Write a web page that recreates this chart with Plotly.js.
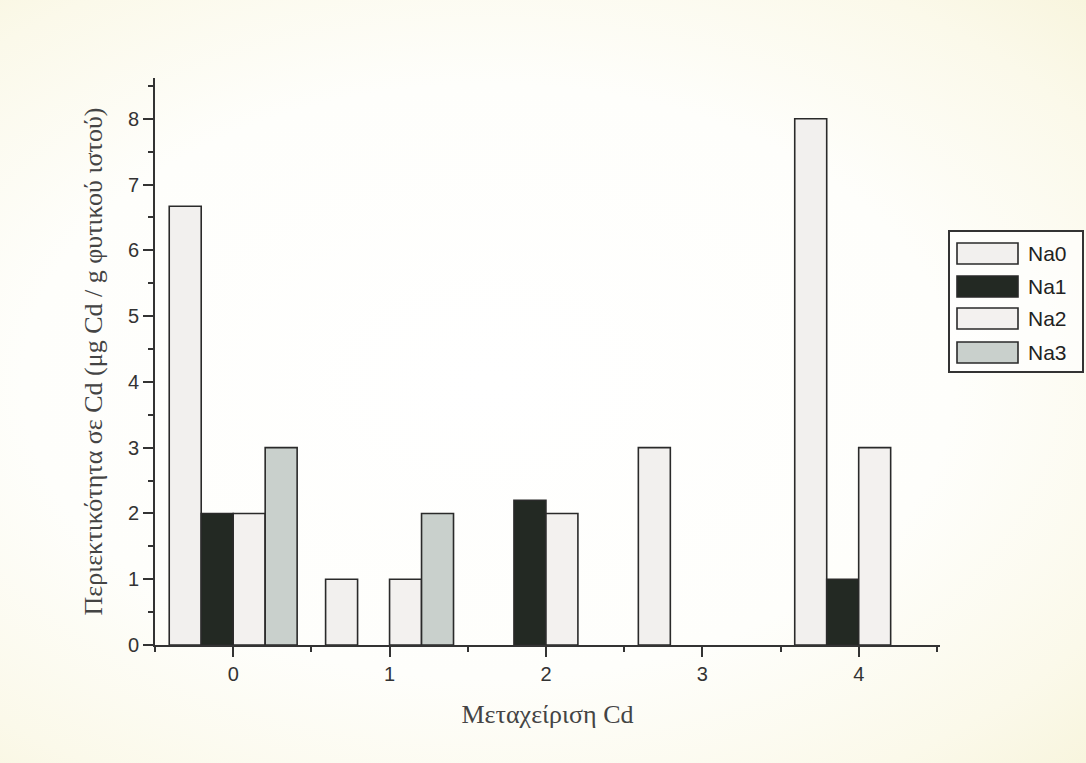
<!DOCTYPE html>
<html>
<head>
<meta charset="utf-8">
<script src="https://cdn.plot.ly/plotly-3.0.1.min.js"></script>
<style>
  html, body { margin: 0; padding: 0; }
  body {
    width: 1086px; height: 763px; overflow: hidden;
    background: radial-gradient(ellipse at 45% 50%, #ffffff 0%, #fefefb 55%, #fbf9ea 85%, #f8f5de 100%);
  }
  #chart { width: 1086px; height: 763px; }
</style>
</head>
<body>
<div id="chart"></div>
<script>
// Data (null = no bar drawn)
const categories = [0, 1, 2, 3, 4];
const seriesNames = ["Na0", "Na1", "Na2", "Na3"];
const na0 = [6.67, 1.0, null, 3.0, 8.0];
const na1 = [2.0, null, 2.2, null, 1.0];
const na2 = [2.0, 1.0, 2.0, null, 3.0];
const na3 = [3.0, 2.0, null, null, null];
const seriesValues = [na0, na1, na2, na3];
const fillColors = ["#f2f0ee", "#232923", "#f3f1ef", "#c9d0cc"];
const yTitle = "Περιεκτικότητα σε Cd (μg Cd / g φυτικού ιστού)";
const xTitle = "Μεταχείριση Cd";

const traces = seriesNames.map((name, i) => ({
  type: "bar",
  name: name,
  x: categories,
  y: seriesValues[i],
  marker: { color: fillColors[i], line: { color: "#2a2a2a", width: 1.6 } },
  showlegend: false,
  hoverinfo: "x+y+name"
}));

// Custom legend (wide swatches) in paper coordinates
const plotL = 155, plotR = 940, plotT = 78, plotB = 645;
const pw = plotR - plotL, ph = plotB - plotT;
const px = v => (v - plotL) / pw;
const py = v => (plotB - v) / ph;

const shapes = [{
  type: "rect", xref: "paper", yref: "paper",
  x0: px(949), x1: px(1083), y0: py(372), y1: py(231),
  line: { color: "#333", width: 2 }, fillcolor: "rgba(255,255,255,0.6)"
}];
const annotations = [];
const rowTops = [243, 276, 308, 342];
seriesNames.forEach((name, i) => {
  const t = rowTops[i];
  shapes.push({
    type: "rect", xref: "paper", yref: "paper",
    x0: px(957), x1: px(1018), y0: py(t + 21), y1: py(t),
    line: { color: "#2a2a2a", width: 1.6 }, fillcolor: fillColors[i]
  });
  annotations.push({
    xref: "paper", yref: "paper", x: px(1026), y: py(t + 10.5),
    xanchor: "left", yanchor: "middle", showarrow: false,
    text: name, font: { family: "Liberation Sans, Arial, sans-serif", size: 21, color: "#222" }
  });
});

const layout = {
  width: 1086, height: 763,
  margin: { l: plotL, r: 1086 - plotR, t: plotT, b: 763 - plotB },
  paper_bgcolor: "rgba(0,0,0,0)",
  plot_bgcolor: "rgba(0,0,0,0)",
  barmode: "group",
  bargap: 0.182,
  bargroupgap: 0,
  showlegend: false,
  xaxis: {
    range: [-0.5, 4.52],
    tickvals: categories,
    ticktext: categories.map(String),
    ticks: "outside", ticklen: 10, tickwidth: 2, tickcolor: "#333",
    minor: { dtick: 0.5, tick0: 0.5, ticks: "outside", ticklen: 5, tickwidth: 2, tickcolor: "#333" },
    showline: true, linecolor: "#333", linewidth: 2,
    showgrid: false, zeroline: false,
    tickfont: { family: "Liberation Sans, Arial, sans-serif", size: 20, color: "#333" },
    title: { text: xTitle, standoff: 21, font: { family: "Liberation Serif, Times New Roman, serif", size: 26, color: "#444" } }
  },
  yaxis: {
    range: [0, 8.62],
    dtick: 1,
    ticks: "outside", ticklen: 10, tickwidth: 2, tickcolor: "#333",
    minor: { dtick: 0.5, ticks: "outside", ticklen: 5, tickwidth: 2, tickcolor: "#333" },
    showline: true, linecolor: "#333", linewidth: 2,
    showgrid: false, zeroline: false,
    tickfont: { family: "Liberation Sans, Arial, sans-serif", size: 20, color: "#333" },
    title: { text: yTitle, standoff: 18, font: { family: "Liberation Serif, Times New Roman, serif", size: 26, color: "#444" } }
  },
  shapes: shapes,
  annotations: annotations
};

Plotly.newPlot("chart", traces, layout, { displayModeBar: false, staticPlot: true });
</script>
</body>
</html>
